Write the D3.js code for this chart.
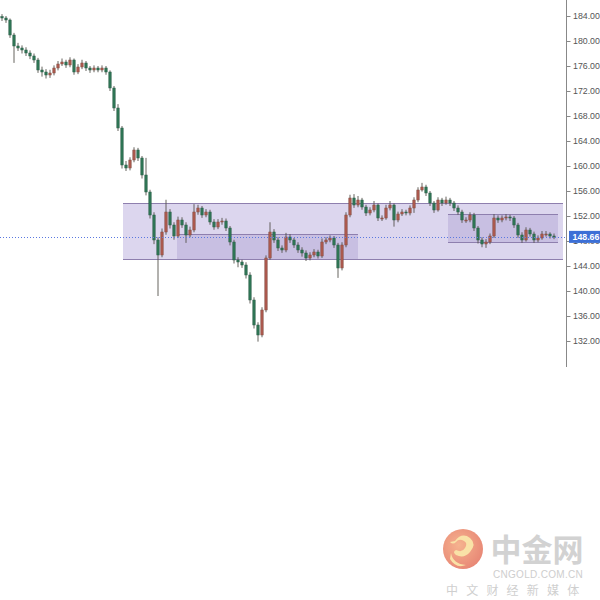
<!DOCTYPE html>
<html><head><meta charset="utf-8">
<script src="https://cdn.jsdelivr.net/npm/d3@7"></script>
<style>body{margin:0;background:#fff}svg{display:block}</style>
</head><body>
<svg id="c" width="600" height="600"></svg>
<script>
const firstOpen = 183.9;
const closes = [183.68,183.36,180.96,179.2,178.88,178.56,178.08,177.6,176.96,175.36,
175.04,174.56,174.88,175.68,176.32,176.64,176.16,176.96,175.04,175.84,
176.48,175.68,175.36,175.68,175.36,175.68,175.04,172.48,169.28,166.08,
160.16,159.68,160.96,162.56,161.28,158.56,155.84,152.16,148.16,145.76,
149.44,152.64,150.56,148.8,151.36,150.56,148.96,149.76,152.64,153.28,
152.16,152.64,151.04,150.24,151.04,151.2,150.08,147.84,144.96,144.64,
144.16,142.56,138.56,134.56,132.96,136.96,145.28,149.44,148.16,146.88,
146.56,148.64,148.16,147.36,146.56,146.08,145.28,145.76,146.24,145.6,
147.84,148.16,148.48,147.36,143.68,147.36,152.16,154.88,153.76,154.56,
153.44,152.48,152.96,153.76,151.68,151.68,153.28,153.76,151.36,152.32,
152.64,152.48,153.28,154.56,156.16,156.64,155.68,154.08,152.96,154.56,
154.08,154.56,154.08,153.28,152.64,151.36,151.36,152.16,150.08,148.16,
147.52,147.84,148.8,151.68,151.36,151.68,151.84,151.68,150.56,148.96,
148.16,149.76,149.12,148.16,148.48,149.12,149.12,148.8,148.66];
const highs = [184.3,184.0,183.6,181.3,179.7,179.3,179.0,178.5,178.0,177.3,
175.9,175.5,175.4,176.1,176.8,177.2,177.0,177.4,177.2,176.3,
177.0,176.8,176.0,176.1,176.0,176.1,176.0,175.3,172.8,169.9,
166.4,160.8,161.4,163.0,162.9,161.6,161.3,156.2,152.6,148.6,
150.0,154.6,153.1,151.0,151.9,151.8,151.0,150.3,153.9,153.8,
153.6,153.1,153.0,151.5,151.5,151.7,151.6,150.4,148.2,145.4,
145.0,144.6,143.0,139.0,135.0,137.4,145.7,151.0,149.9,148.6,
147.3,149.3,149.1,148.5,147.8,147.0,146.5,146.2,146.7,146.6,
148.4,148.6,148.9,148.8,147.7,147.8,152.6,155.4,155.5,155.2,
154.9,153.8,153.4,154.4,154.0,152.1,153.8,154.4,154.0,152.7,
153.1,153.0,153.7,155.0,156.6,157.3,157.0,156.0,154.4,155.0,
154.9,155.1,154.9,154.4,153.7,153.0,151.8,152.6,152.5,150.4,
148.6,148.3,149.2,152.3,152.1,152.1,152.3,152.2,152.0,150.9,
149.4,150.2,150.1,149.5,148.9,149.6,149.6,149.4,149.2];
const lows = [183.2,182.9,180.5,176.5,178.4,178.0,177.6,177.1,176.5,174.9,
174.3,174.0,174.1,174.5,175.3,176.0,175.7,175.8,174.6,174.7,
175.5,175.2,174.9,175.0,175.0,175.0,174.6,172.0,168.8,165.6,
159.6,159.2,159.3,160.6,160.8,158.0,155.3,151.6,147.5,139.2,
145.4,149.0,150.0,148.2,148.5,150.1,147.7,148.6,149.4,152.2,
151.7,151.8,150.6,149.8,149.9,150.6,149.6,147.3,144.4,143.8,
143.7,142.0,138.0,134.0,131.9,132.6,136.6,145.0,147.7,146.4,
146.1,146.2,147.7,146.9,146.1,145.5,144.8,144.9,145.4,145.2,
145.3,147.5,147.8,146.9,142.1,143.3,147.0,151.8,153.3,153.4,
153.0,152.0,152.1,152.6,151.2,151.2,151.4,152.9,150.3,151.0,
152.0,152.1,152.1,152.5,154.2,155.9,155.2,153.6,152.5,152.7,
153.6,153.8,153.6,152.8,152.2,150.9,150.9,151.0,149.6,147.6,
147.0,146.9,147.5,148.5,150.9,151.0,151.3,151.2,150.1,148.5,
147.7,147.9,148.7,147.7,147.8,148.2,148.7,148.4,148.3];
const yTicks = [132,136,140,144,148,152,156,160,164,168,172,176,180,184];
const lastPrice = 148.66;
// boxes: [startIndex, endIndex, top price, bottom price]
const boxes = [[30.25,140.25,154.08,145.12],[43.75,89,149.1,145.12],[111.5,139,152.32,147.84]];
const boxFills = ["#dcd6ee","#c8bfe2","#c8bfe2"];

const candles = closes.map((c,i)=>({i, o: i===0?firstOpen:closes[i-1], c, h: highs[i], l: lows[i]}));

const svg = d3.select("#c");
const x = d3.scaleLinear().domain([0, closes.length-1]).range([2, 554]);
const y = d3.scaleLinear().domain([184,132]).range([16,341]);
const axisX = 566;
const font = "Liberation Sans, Arial, sans-serif";

// boxes
svg.append("g").selectAll("rect").data(boxes).join("rect")
  .attr("x", d=>x(d[0])).attr("width", d=>x(d[1])-x(d[0]))
  .attr("y", d=>y(d[2])).attr("height", d=>y(d[3])-y(d[2]))
  .attr("fill", (d,i)=>boxFills[i]);
const lines = svg.append("g").attr("stroke","#8e7fae").attr("stroke-width",1);
boxes.forEach(d=>{
  [d[2],d[3]].forEach(v=>{
    lines.append("line").attr("x1",x(d[0])).attr("x2",x(d[1]))
      .attr("y1",Math.round(y(v))+0.5).attr("y2",Math.round(y(v))+0.5);
  });
});

// candles
const g = svg.append("g");
const bw = 2.4;
g.selectAll("line.w").data(candles).join("line").attr("class","w")
  .attr("x1",d=>x(d.i)).attr("x2",d=>x(d.i))
  .attr("y1",d=>y(d.h)).attr("y2",d=>y(d.l))
  .attr("stroke","#55524c").attr("stroke-width",0.9);
g.selectAll("rect.b").data(candles).join("rect").attr("class","b")
  .attr("x",d=>x(d.i)-bw/2).attr("width",bw)
  .attr("y",d=>y(Math.max(d.o,d.c)))
  .attr("height",d=>Math.max(1,Math.abs(y(d.o)-y(d.c))))
  .attr("fill",d=>d.c>=d.o?"#ad5a4e":"#2f7656")
  .attr("stroke",d=>d.c>=d.o?"#7d4c42":"#2c5c47").attr("stroke-width",0.5);

// last price dotted line
svg.append("line").attr("x1",0).attr("x2",axisX)
  .attr("y1",Math.round(y(lastPrice))+0.5).attr("y2",Math.round(y(lastPrice))+0.5)
  .attr("stroke","#5a78e0").attr("stroke-width",1).attr("stroke-dasharray","1,2");

// axis
svg.append("line").attr("x1",axisX+0.5).attr("x2",axisX+0.5).attr("y1",0).attr("y2",367)
  .attr("stroke","#888");
const ax = svg.append("g").attr("transform",`translate(${axisX+0.5},0)`)
  .call(d3.axisRight(y).tickValues(yTicks).tickFormat(d3.format(".2f")).tickSize(4).tickPadding(2.5));
ax.select(".domain").remove();
ax.selectAll("line").attr("stroke","#888");
ax.selectAll("text").attr("fill","#555").style("font-family",font).style("font-size","8.8px");

// price label
const py = y(lastPrice);
svg.append("rect").attr("x",axisX+3).attr("y",py-6).attr("width",31).attr("height",12).attr("fill","#3c6fd6");
svg.append("text").attr("x",axisX+6.5).attr("y",py+3.3).text(lastPrice.toFixed(2))
  .attr("fill","#fff").style("font-family",font).style("font-size","8.8px").style("font-weight","bold");

// watermark
const wm = svg.append("g").attr("opacity",0.75);
const defs = svg.append("defs");
const grad = defs.append("radialGradient").attr("id","lg").attr("cx","40%").attr("cy","40%").attr("r","70%");
grad.append("stop").attr("offset","0%").attr("stop-color","#f39a6a");
grad.append("stop").attr("offset","100%").attr("stop-color","#df5b45");
wm.append("circle").attr("cx",463).attr("cy",549).attr("r",20).attr("fill","url(#lg)");
wm.append("path").attr("d","M455,541 q7,-9 15,-3 q7,6 0,14 q-6,7 -14,3 q-4,-3 0,-5 q6,3 9,-2 q3,-5 -1,-7 q-5,-3 -8,1 q-3,3 -6,0 z M451,553 q2,11 15,12 q-10,4 -16,-6 z")
  .attr("fill","#f8d98a");
wm.append("text").attr("x",537).attr("y",561).attr("text-anchor","middle").text("中金网")
  .attr("fill","#c4c4c4").style("font-family","Noto Sans CJK SC").style("font-size","31px").style("font-weight","bold");
wm.append("text").attr("x",538).attr("y",578).attr("text-anchor","middle").text("CNGOLD.COM.CN")
  .attr("fill","#bdbdbd").style("font-family",font).style("font-size","10px").style("letter-spacing","0.3px");
wm.append("text").attr("x",446).attr("y",595).text("中文财经新媒体")
  .attr("fill","#c0c0c0").style("font-family","Noto Sans CJK SC").style("font-size","12px").style("letter-spacing","8.2px");
</script>
</body></html>
